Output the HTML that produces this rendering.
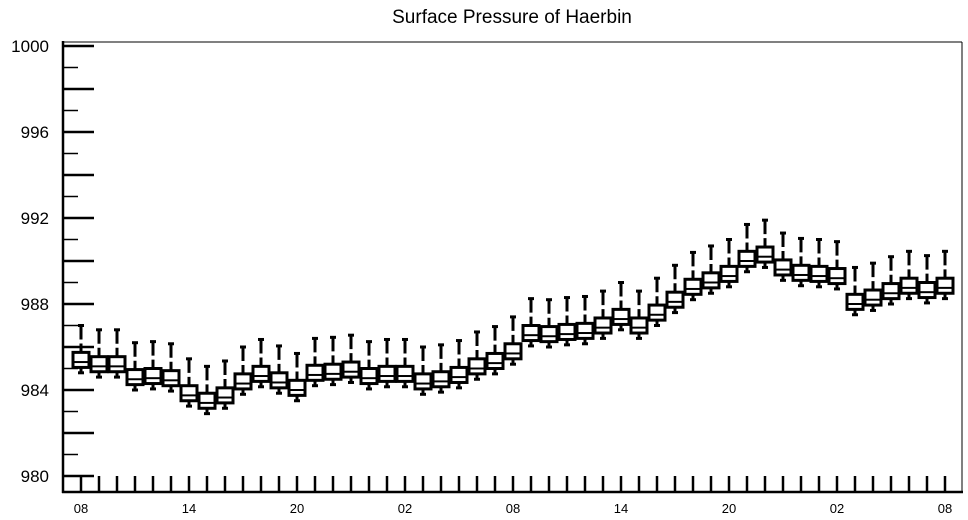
<!DOCTYPE html>
<html><head><meta charset="utf-8"><style>
body{margin:0;background:#fff;}
svg{display:block;font-family:"Liberation Sans",Arial,sans-serif;}
</style></head><body>
<svg id="chart" width="968" height="520" viewBox="0 0 968 520">
<text x="512" y="23" font-size="19" text-anchor="middle">Surface Pressure of Haerbin</text>
<g id="frame">
<line x1="63" y1="42" x2="962" y2="42" stroke="#000" stroke-width="1"/>
<line x1="962" y1="42" x2="962" y2="492" stroke="#000" stroke-width="1"/>
<line x1="63" y1="41" x2="63" y2="493" stroke="#000" stroke-width="2.5"/>
<line x1="62" y1="492" x2="963" y2="492" stroke="#000" stroke-width="2.5"/>
</g>
<g id="yaxis"></g>
<g id="xaxis"></g>
<g id="boxes"></g>
</svg>
<script>
const hourLabels = ["08","14","20","02","08","14","20","02","08"];
const yTicks = [1000,996,992,988,984,980];
const whiskerHigh = [987.0,986.8,986.8,986.2,986.25,986.15,985.45,985.1,985.35,986.0,986.35,986.05,985.7,986.4,986.45,986.55,986.25,986.35,986.35,986.0,986.1,986.3,986.7,986.95,987.4,988.25,988.2,988.3,988.35,988.6,989.0,988.6,989.2,989.8,990.4,990.7,991.0,991.7,991.9,991.3,991.05,991.0,990.9,989.7,989.9,990.2,990.45,990.25,990.45];
const q3 = [985.75,985.55,985.55,984.95,985.0,984.9,984.2,983.85,984.1,984.75,985.1,984.8,984.45,985.15,985.2,985.3,985.0,985.1,985.1,984.75,984.85,985.05,985.45,985.7,986.15,987.0,986.95,987.05,987.1,987.35,987.75,987.35,987.95,988.55,989.15,989.45,989.75,990.45,990.65,990.05,989.8,989.75,989.65,988.45,988.65,988.95,989.2,989.0,989.2];
const median = [985.3,985.1,985.1,984.5,984.55,984.45,983.75,983.4,983.65,984.3,984.65,984.35,984.0,984.7,984.75,984.85,984.55,984.65,984.65,984.3,984.4,984.6,985.0,985.25,985.7,986.55,986.5,986.6,986.65,986.9,987.3,986.9,987.5,988.1,988.7,989.0,989.3,990.0,990.2,989.6,989.35,989.3,989.2,988.0,988.2,988.5,988.75,988.55,988.75];
const q1 = [985.05,984.85,984.85,984.25,984.3,984.2,983.5,983.15,983.4,984.05,984.4,984.1,983.75,984.45,984.5,984.6,984.3,984.4,984.4,984.05,984.15,984.35,984.75,985.0,985.45,986.3,986.25,986.35,986.4,986.65,987.05,986.65,987.25,987.85,988.45,988.75,989.05,989.75,989.95,989.35,989.1,989.05,988.95,987.75,987.95,988.25,988.5,988.3,988.5];
const whiskerLow = [984.8,984.6,984.6,984.0,984.05,983.95,983.25,982.9,983.15,983.8,984.15,983.85,983.5,984.2,984.25,984.35,984.05,984.15,984.15,983.8,983.9,984.1,984.5,984.75,985.2,986.05,986.0,986.1,986.15,986.4,986.8,986.4,987.0,987.6,988.2,988.5,988.8,989.5,989.7,989.1,988.85,988.8,988.7,987.5,987.7,988.0,988.25,988.05,988.25];

const NS="http://www.w3.org/2000/svg";
function y(v){return 46+(1000-v)*21.5;}
function x(i){return 81+i*18;}
function mk(tag,attrs,parent){const e=document.createElementNS(NS,tag);for(const k in attrs)e.setAttribute(k,attrs[k]);parent.appendChild(e);return e;}
const ya=document.getElementById('yaxis'),xa=document.getElementById('xaxis'),bx=document.getElementById('boxes');
for(let v=980;v<=1000;v++){
  const major=(v%2===0);
  const t=mk('line',{x1:63,x2:major?94:78,y1:y(v),y2:y(v),stroke:'#000','stroke-width':major?2.5:1.5},ya);
  
  
}
yTicks.forEach(v=>{
  const t=mk('text',{x:49,y:y(v)+6,'font-size':17,'text-anchor':'end'},ya);
  t.textContent=String(v);
  
  
});
for(let i=0;i<median.length;i++){
  const t=mk('line',{x1:x(i),x2:x(i),y1:476,y2:492,stroke:'#000','stroke-width':2.5},xa);
  
  
}
hourLabels.forEach((l,k)=>{
  const t=mk('text',{x:x(k*6),y:513,'font-size':13,'text-anchor':'middle'},xa);
  t.textContent=l;
  
  
});
for(let i=0;i<median.length;i++){
  const g=mk('g',{},bx);
  
  
  const cx=x(i);
  mk('line',{x1:cx,x2:cx,y1:y(whiskerHigh[i]),y2:y(q3[i]),stroke:'#000','stroke-width':3,'stroke-dasharray':'14 4'},g);
  mk('line',{x1:cx-3,x2:cx+3,y1:y(whiskerHigh[i]),y2:y(whiskerHigh[i]),stroke:'#000','stroke-width':3},g);
  mk('line',{x1:cx,x2:cx,y1:y(q1[i]),y2:y(whiskerLow[i]),stroke:'#000','stroke-width':3},g);
  mk('line',{x1:cx-3,x2:cx+3,y1:y(whiskerLow[i]),y2:y(whiskerLow[i]),stroke:'#000','stroke-width':3},g);
  mk('rect',{x:cx-8,y:y(q3[i]),width:16,height:y(q1[i])-y(q3[i]),fill:'#fff',stroke:'#000','stroke-width':3},g);
  mk('line',{x1:cx-8,x2:cx+8,y1:y(median[i]),y2:y(median[i]),stroke:'#000','stroke-width':2},g);
}
</script>
</body></html>
